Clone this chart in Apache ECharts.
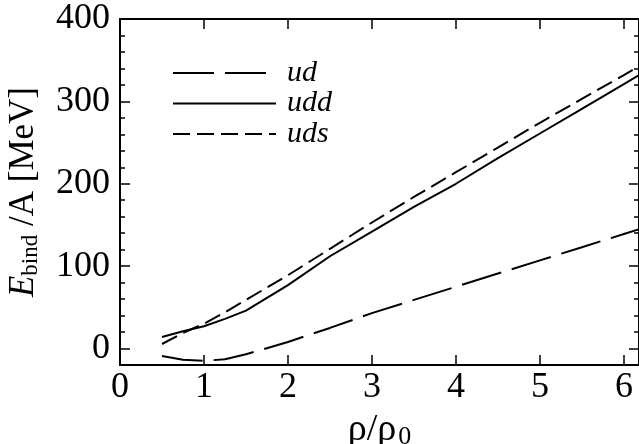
<!DOCTYPE html>
<html>
<head>
<meta charset="utf-8">
<script src="https://cdn.jsdelivr.net/npm/echarts@6/dist/echarts.min.js"></script>
<style>
  html, body { margin: 0; padding: 0; background: #fff; }
  #chart { width: 639px; height: 444px; }
</style>
</head>
<body>
<div id="chart"></div>
<script>
// Density in units of nuclear saturation density
const rho = [0.5, 0.75, 1, 1.25, 1.5, 2, 2.5, 3, 3.5, 4, 4.5, 5, 5.5, 6, 6.2];
// Binding energy per baryon [MeV] for each quark-matter composition
const ud  = [-9, -13.5, -15, -13, -7, 8, 25, 43, 59, 75, 91, 107, 123, 139, 145.5];
const udd = [14, 21, 27, 36, 46, 77, 112, 142, 172, 200, 231, 261, 291, 321, 333];
const uds = [5.5, 19, 30, 44, 59, 89, 121, 153, 184, 214, 244, 274, 303, 332, 344];

const seriesNames = ['ud', 'udd', 'uds'];
const xTicks = [0, 1, 2, 3, 4, 5, 6];
const yTicks = [0, 100, 200, 300, 400];

const FONT = '"Liberation Serif", "Times New Roman", serif';
const X_MIN = 0, X_MAX = 6.18, Y_MIN = -20, Y_MAX = 400;

const pairs = ys => rho.map((x, i) => [x, ys[i]]);

const frameLine = { show: true, onZero: false, lineStyle: { color: '#000', width: 2 } };
const tickStyle = { color: '#000', width: 1.5 };

function xAxisCfg(position, withLabels) {
  return {
    type: 'value', position, min: X_MIN, max: X_MAX,
    axisLine: frameLine,
    axisTick: { show: true, inside: true, length: 10, customValues: xTicks, lineStyle: tickStyle },
    axisLabel: withLabels
      ? { show: true, customValues: xTicks, fontFamily: FONT, fontSize: 36, color: '#000', margin: 5 }
      : { show: false },
    splitLine: { show: false }
  };
}

function yMajor(position, withLabels) {
  return {
    type: 'value', position, min: Y_MIN, max: Y_MAX,
    axisLine: frameLine,
    axisTick: { show: true, inside: true, length: 10, customValues: yTicks, lineStyle: tickStyle },
    axisLabel: withLabels
      ? { show: true, customValues: yTicks, fontFamily: FONT, fontSize: 36, color: '#000', margin: 10 }
      : { show: false },
    splitLine: { show: false }
  };
}

function yMinor(position) {
  return {
    type: 'value', position, min: Y_MIN, max: Y_MAX, interval: 20,
    axisLine: { show: false, onZero: false },
    axisTick: { show: true, inside: true, length: 5, lineStyle: tickStyle },
    axisLabel: { show: false },
    splitLine: { show: false }
  };
}

const xBottom = xAxisCfg('bottom', true);
Object.assign(xBottom, {
  name: '{r|ρ/ρ}{s|0}',
  nameLocation: 'middle',
  nameGap: 25,
  nameTextStyle: {
    fontFamily: FONT, color: '#000',
    rich: {
      r: { fontFamily: FONT, fontSize: 38, color: '#000' },
      s: { fontFamily: FONT, fontSize: 26, color: '#000', padding: [14, 0, 0, 2] }
    }
  }
});

const yLeft = yMajor('left', true);
Object.assign(yLeft, {
  name: '{e|E}{s|bind}{n| /A [MeV]}',
  nameLocation: 'middle',
  nameRotate: 90,
  nameGap: 78,
  nameTextStyle: {
    fontFamily: FONT, color: '#000',
    rich: {
      e: { fontFamily: FONT, fontSize: 35, fontStyle: 'italic', color: '#000' },
      s: { fontFamily: FONT, fontSize: 23, color: '#000', padding: [13, 0, 0, 0] },
      n: { fontFamily: FONT, fontSize: 35, color: '#000' }
    }
  }
});

const dashes = { ud: [41, 11], udd: 'solid', uds: [17, 7] };
const values = { ud, udd, uds };

const chart = echarts.init(document.getElementById('chart'), null, { renderer: 'canvas' });
chart.setOption({
  backgroundColor: '#fff',
  animation: false,
  grid: { left: 120, right: 0, top: 19, bottom: 79, containLabel: false, outerBoundsMode: 'none' },
  legend: {
    left: 172, top: 58, orient: 'vertical', padding: 0,
    itemWidth: 103, itemHeight: 14, itemGap: 0.5,
    data: seriesNames,
    itemStyle: { color: 'rgba(0,0,0,0)', borderColor: 'rgba(0,0,0,0)', borderWidth: 0, opacity: 0 },
    textStyle: { fontFamily: FONT, fontStyle: 'italic', fontSize: 30, color: '#000', lineHeight: 28, padding: [0, 0, 0, 6] }
  },
  xAxis: [xBottom, xAxisCfg('top', false)],
  yAxis: [yLeft, yMinor('left'), yMajor('right', false), yMinor('right')],
  series: seriesNames.map(n => ({
    name: n,
    type: 'line',
    xAxisIndex: 0,
    yAxisIndex: 0,
    data: pairs(values[n]),
    symbol: 'none',
    smooth: false,
    clip: true,
    lineStyle: { color: '#000', width: 2, type: dashes[n] },
    itemStyle: { color: '#000' }
  }))
});
</script>
</body>
</html>
